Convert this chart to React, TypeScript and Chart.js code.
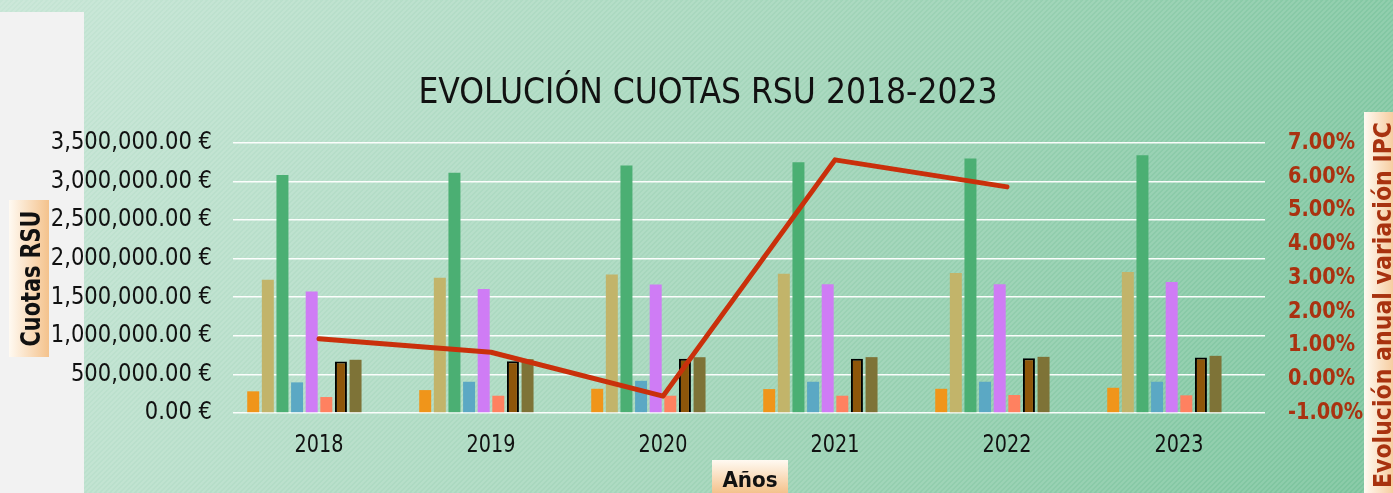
import { useEffect, useRef } from 'react';
import { Chart, registerables } from 'chart.js';

Chart.register(...registerables);

const W = 1393;
const H = 493;

const years = ['2018', '2019', '2020', '2021', '2022', '2023'];

const serieNaranja = [281000, 297000, 314000, 310000, 314000, 327000];
const serieArena = [1727000, 1752000, 1796000, 1806000, 1815000, 1827000];
const serieVerde = [3084000, 3114000, 3208000, 3250000, 3298000, 3341000];
const serieAzul = [397000, 405000, 417000, 405000, 405000, 405000];
const serieVioleta = [1576000, 1606000, 1667000, 1668000, 1668000, 1698000];
const serieSalmon = [207000, 224000, 224000, 224000, 233000, 229000];
const serieMarron = [668000, 672000, 702000, 702000, 711000, 719000];
const serieOliva = [690000, 698000, 723000, 724000, 728000, 741000];
const serieVacia1 = [null, null, null, null, null, null];
const serieVacia2 = [null, null, null, null, null, null];
const ipcVariacion = [1.2, 0.8, -0.5, 6.5, 5.7, null];

const title = 'EVOLUCIÓN CUOTAS RSU 2018-2023';
const yTitle = 'Cuotas RSU';
const y1Title = 'Evolución anual variación IPC';
const xTitle = 'Años';

const FONT = '"DejaVu Sans", sans-serif';

type TOpts = {
  font: string;
  color: string;
  align?: CanvasTextAlign;
  baseline?: CanvasTextBaseline;
  sx?: number;
  rotate?: boolean;
};

function drawText(ctx: CanvasRenderingContext2D, text: string, x: number, y: number, o: TOpts) {
  ctx.save();
  ctx.translate(x, y);
  if (o.rotate) ctx.rotate(-Math.PI / 2);
  ctx.scale(o.sx ?? 1, 1);
  ctx.font = o.font;
  ctx.fillStyle = o.color;
  ctx.textAlign = o.align ?? 'left';
  ctx.textBaseline = o.baseline ?? 'alphabetic';
  ctx.fillText(text, 0, 0);
  ctx.restore();
}

function fmtEuro(v: number) {
  return v.toLocaleString('en-US', { minimumFractionDigits: 2, maximumFractionDigits: 2 }) + ' €';
}

export default function App() {
  const ref = useRef<HTMLCanvasElement>(null);

  useEffect(() => {
    const canvas = ref.current!;

    const bgPlugin = {
      id: 'bgPlugin',
      beforeDraw(chart: any) {
        const ctx: CanvasRenderingContext2D = chart.ctx;
        ctx.save();
        const g = ctx.createLinearGradient(0, 0, W, H);
        g.addColorStop(0, '#c6e5d5');
        g.addColorStop(0.5, '#a4d6bb');
        g.addColorStop(1, '#78c39b');
        ctx.fillStyle = g;
        ctx.fillRect(0, 0, W, H);
        ctx.strokeStyle = 'rgba(255,255,255,0.13)';
        ctx.lineWidth = 2;
        ctx.beginPath();
        for (let k = -H; k < W + H; k += 5) {
          ctx.moveTo(k, H);
          ctx.lineTo(k + H, 0);
        }
        ctx.stroke();
        ctx.fillStyle = '#f2f2f2';
        ctx.fillRect(0, 12, 84, H - 12);
        ctx.restore();
      },
    };

    const textPlugin = {
      id: 'textPlugin',
      afterDraw(chart: any) {
        const ctx: CanvasRenderingContext2D = chart.ctx;
        const sy = chart.scales.y;
        const sy1 = chart.scales.y1;
        const sx = chart.scales.x;

        drawText(ctx, title, 708, 103, {
          font: `35px ${FONT}`, color: '#111', align: 'center', sx: 0.9,
        });

        sy.ticks.forEach((t: any) => {
          drawText(ctx, fmtEuro(t.value), 212, sy.getPixelForValue(t.value), {
            font: `24px ${FONT}`, color: '#111', align: 'right', baseline: 'middle', sx: 0.88,
          });
        });

        sy1.ticks.forEach((t: any) => {
          drawText(ctx, `${t.value.toFixed(2)}%`, 1288, sy1.getPixelForValue(t.value), {
            font: `bold 23px ${FONT}`, color: '#aa3210', align: 'left', baseline: 'middle', sx: 0.84,
          });
        });

        years.forEach((yr, i) => {
          drawText(ctx, yr, sx.getPixelForValue(i), 452, {
            font: `24px ${FONT}`, color: '#111', align: 'center', sx: 0.8,
          });
        });

        ctx.save();
        let g = ctx.createLinearGradient(9, 0, 49, 0);
        g.addColorStop(0, '#fffaf2');
        g.addColorStop(1, '#f4c28c');
        ctx.fillStyle = g;
        ctx.fillRect(9, 200, 40, 157);
        g = ctx.createLinearGradient(1364, 0, 1400, 0);
        g.addColorStop(0, '#fffaf2');
        g.addColorStop(1, '#f4c28c');
        ctx.fillStyle = g;
        ctx.fillRect(1364, 112, 40, H - 112);
        g = ctx.createLinearGradient(0, 460, 0, 493);
        g.addColorStop(0, '#fffaf2');
        g.addColorStop(1, '#f4c28c');
        ctx.fillStyle = g;
        ctx.fillRect(712, 460, 76, 33);
        ctx.restore();

        drawText(ctx, yTitle, 40, 278.5, {
          font: `bold 26px ${FONT}`, color: '#111', align: 'center', rotate: true, sx: 0.8,
        });
        drawText(ctx, y1Title, 1391, 305, {
          font: `bold 24px ${FONT}`, color: '#a8320f', align: 'center', rotate: true, sx: 0.92,
        });
        drawText(ctx, xTitle, 750, 487, {
          font: `bold 21px ${FONT}`, color: '#111', align: 'center', sx: 0.95,
        });
      },
    };

    const bar = (label: string, data: (number | null)[], color: string, extra: any = {}) => ({
      type: 'bar' as const,
      label,
      data,
      backgroundColor: color,
      borderWidth: 0,
      yAxisID: 'y',
      order: 1,
      ...extra,
    });

    const chart = new Chart(canvas, {
      type: 'bar',
      data: {
        labels: years,
        datasets: [
          bar('Serie 1', serieNaranja, '#f0951a'),
          bar('Serie 2', serieArena, '#c2b46a'),
          bar('Serie 3', serieVerde, '#4baf73'),
          bar('Serie 4', serieAzul, '#5ba8c4'),
          bar('Serie 5', serieVioleta, '#cf7cf5'),
          bar('Serie 6', serieSalmon, '#ff8160'),
          bar('Serie 7', serieMarron, '#8e560a', { borderWidth: 2, borderColor: '#000' }),
          bar('Serie 8', serieOliva, '#7e7337'),
          bar('Serie 9', serieVacia1, '#888888'),
          bar('Serie 10', serieVacia2, '#888888'),
          {
            type: 'line' as const,
            label: 'Variación IPC',
            data: ipcVariacion,
            yAxisID: 'y1',
            order: 0,
            borderColor: '#c9300b',
            borderWidth: 5,
            borderCapStyle: 'round',
            borderJoinStyle: 'round',
            pointRadius: 0,
            fill: false,
            tension: 0,
          } as any,
        ],
      },
      options: {
        responsive: false,
        animation: false,
        devicePixelRatio: 1,
        layout: { padding: { top: 143, left: 0, right: 0, bottom: 0 } },
        plugins: {
          legend: { display: false },
          title: { display: false },
          tooltip: { enabled: false },
        },
        datasets: {
          bar: { categoryPercentage: 0.85, barPercentage: 0.82 },
        },
        scales: {
          x: {
            grid: { display: false },
            border: { display: false },
            ticks: { display: false },
            afterFit(s: any) { s.height = 80; },
          },
          y: {
            position: 'left',
            min: 0,
            max: 3500000,
            ticks: { display: false, stepSize: 500000 },
            grid: { color: 'rgba(255,255,255,0.95)', lineWidth: 1.6, drawTicks: false },
            border: { display: false },
            afterFit(s: any) { s.width = 233; },
          },
          y1: {
            position: 'right',
            min: -1,
            max: 7,
            ticks: { display: false, stepSize: 1 },
            grid: { display: false },
            border: { display: false },
            afterFit(s: any) { s.width = 128; },
          },
        },
      } as any,
      plugins: [bgPlugin, textPlugin],
    });

    return () => chart.destroy();
  }, []);

  return (
    <div style={{ position: 'absolute', left: 0, top: 0, width: W, height: H }}>
      <canvas ref={ref} width={W} height={H} style={{ width: W, height: H, display: 'block' }} />
    </div>
  );
}
